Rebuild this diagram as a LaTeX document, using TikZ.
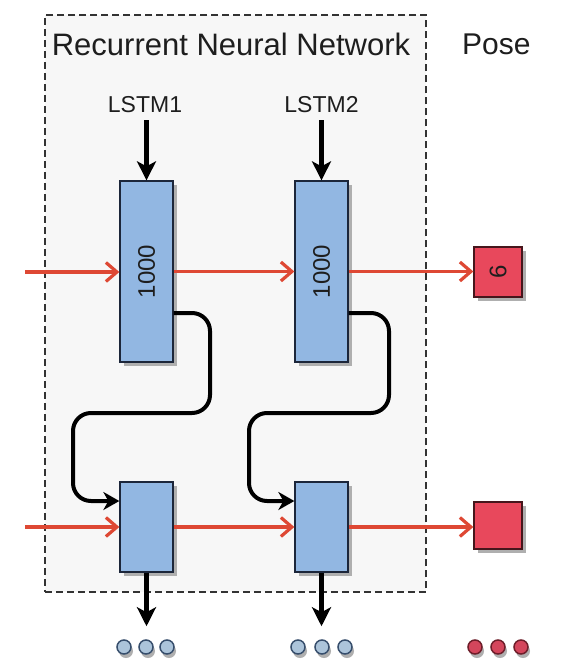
\documentclass[tikz,border=0pt]{standalone}
\usepackage{fontspec}
\setmainfont{Liberation Sans}
\usetikzlibrary{arrows.meta,shadows,calc}
\definecolor{boxblue}{RGB}{146,183,226}
\definecolor{boxline}{RGB}{28,38,58}
\definecolor{sqred}{RGB}{232,72,92}
\definecolor{sqline}{RGB}{70,22,28}
\definecolor{arrred}{RGB}{222,72,52}
\definecolor{dotblue}{RGB}{172,196,218}
\definecolor{dotblueline}{RGB}{55,78,108}
\definecolor{dotred}{RGB}{212,70,92}
\definecolor{dotredline}{RGB}{110,30,42}
\definecolor{panelbg}{RGB}{247,247,247}
\definecolor{txt}{RGB}{30,30,30}
\definecolor{shad}{RGB}{175,175,175}
\tikzset{
  lstmbox/.style={draw=boxline, line width=1.3pt, fill=boxblue, minimum width=53pt, inner sep=0pt,
    drop shadow={shadow xshift=4pt, shadow yshift=-4pt, fill=shad, opacity=1}},
  redsq/.style={draw=sqline, line width=1.3pt, fill=sqred, minimum width=48pt, minimum height=50pt, inner sep=0pt,
    drop shadow={shadow xshift=4pt, shadow yshift=-4pt, fill=shad, opacity=1}},
  redarrow/.style={draw=arrred, line width=3.2pt, -{Straight Barb[length=11pt,width=19pt,line width=3.2pt]}},
  blackarrow/.style={draw=black, line width=4.5pt, -{Stealth[length=19pt,width=19pt,inset=5pt]}},
  loopline/.style={draw=black, line width=4pt, rounded corners=18pt, -{Stealth[length=16pt,width=18pt,inset=5pt]}},
  bdot/.style={circle, draw=dotblueline, line width=1.5pt, fill=dotblue, minimum size=14pt, inner sep=0pt,
    drop shadow={shadow xshift=2pt, shadow yshift=-4pt, fill=shad, opacity=1}},
  rdot/.style={circle, draw=dotredline, line width=1.5pt, fill=dotred, minimum size=14pt, inner sep=0pt,
    drop shadow={shadow xshift=2pt, shadow yshift=-4pt, fill=shad, opacity=1}},
  lbl/.style={text=txt, inner sep=0pt},
  numtxt/.style={text=txt, font=\fontsize{24}{24}\selectfont, rotate=90, inner sep=0pt}
}
\begin{document}
\begin{tikzpicture}[x=1pt,y=-1pt]
\useasboundingbox (0,0) rectangle (562,667);
\fill[white] (0,0) rectangle (562,667);
% panel
\node[draw=black!80, dash pattern=on 7pt off 4pt, line width=1.3pt, fill=panelbg, minimum width=381pt, minimum height=577pt, inner sep=0pt] (panel) at (235.5,303.5) {};
\node[lbl, font=\fontsize{31}{31}\selectfont] (title) at (231,44) {Recurrent Neural Network};
\node[lbl, font=\fontsize{30}{30}\selectfont, anchor=west] (pose) at (462,44) {Pose};
\node[lbl, font=\fontsize{23}{23}\selectfont] (l1) at (145,105) {LSTM1};
\node[lbl, font=\fontsize{23}{23}\selectfont] (l2) at (321.5,105) {LSTM2};
% boxes
\node[lstmbox, minimum height=181pt] (b1) at (146.5,271.5) {};
\node[numtxt] at (b1) {1000};
\node[lstmbox, minimum height=181pt] (b2) at (321.5,271.5) {};
\node[numtxt] at (b2) {1000};
\node[lstmbox, minimum height=90pt] (b3) at (146.5,527) {};
\node[lstmbox, minimum height=90pt] (b4) at (321.5,527) {};
\node[redsq] (s1) at (498,272) {};
\node[numtxt] at (s1) {6};
\node[redsq, minimum height=47pt] (s2) at (498,525.5) {};
% dots
\node[bdot] (d11) at (124,647) {};
\node[bdot] (d12) at (146,647) {};
\node[bdot] (d13) at (167,647) {};
\node[bdot] (d21) at (298,647) {};
\node[bdot] (d22) at (322,647) {};
\node[bdot] (d23) at (345,647) {};
\node[rdot] (d31) at (475,647) {};
\node[rdot] (d32) at (498,647) {};
\node[rdot] (d33) at (521,647) {};
% input coordinates
\coordinate (in1) at (25,272);
\coordinate (in2) at (25,527);
% black arrows from labels
\draw[blackarrow, shorten <=7pt] (l1.south -| b1.north) -- (b1.north);
\draw[blackarrow, shorten <=7pt] (l2.south -| b2.north) -- (b2.north);
% red arrows top row
\draw[redarrow] (in1) -- (in1 -| b1.west);
\draw[redarrow] (b1.east) -- (b2.west);
\draw[redarrow] (b2.east) -- (b2.east -| s1.west);
% red arrows bottom row
\draw[redarrow] (in2) -- (in2 -| b3.west);
\draw[redarrow] (b3.east) -- (b4.west);
\draw[redarrow] (b4.east) -- (b4.east -| s2.west);
% loop connectors
\coordinate (p1a) at (173,313);
\coordinate (p1b) at (210,413);
\coordinate (p1c) at (73,501);
\coordinate (p2a) at (348,313);
\coordinate (p2b) at (389,413);
\coordinate (p2c) at (249,501);
\draw[loopline] (b1.east |- p1a) -| (p1b) -| (p1c) -- (p1c -| b3.west);
\draw[loopline] (b2.east |- p2a) -| (p2b) -| (p2c) -- (p2c -| b4.west);
% output arrows
\draw[blackarrow, shorten >=13pt] (b3.south) -- (b3.south |- d12.north);
\draw[blackarrow, shorten >=13pt] (b4.south) -- (b4.south |- d22.north);
\end{tikzpicture}
\end{document}
